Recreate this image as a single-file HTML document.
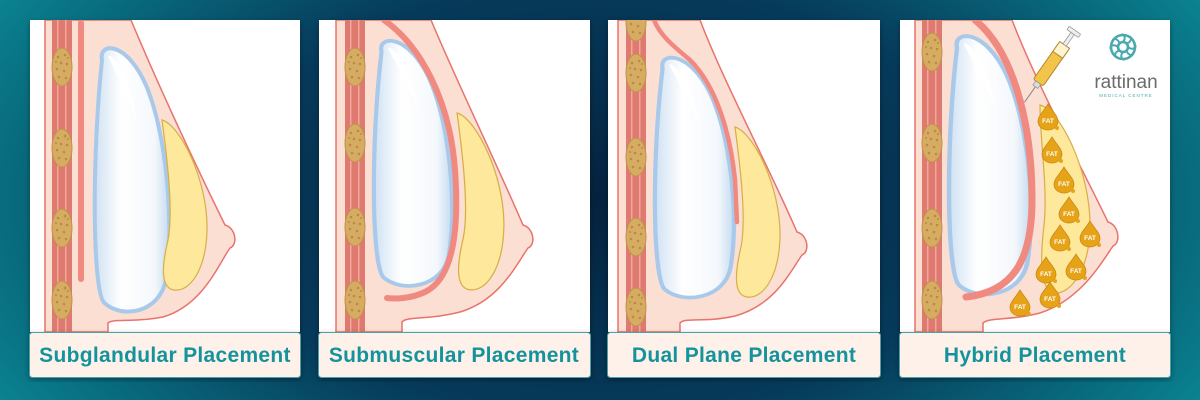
<!DOCTYPE html>
<html><head><meta charset="utf-8"><style>
html,body{margin:0;padding:0;width:1200px;height:400px;overflow:hidden}
body{background:radial-gradient(ellipse 70% 120% at 50% 50%,#04223f 0%,#063a5a 45%,#0a8793 85%,#0c9aa4 100%)}
svg{display:block}
.lbl{font-family:"Liberation Sans",sans-serif;font-weight:bold;font-size:21px;fill:#14939c;text-anchor:middle;letter-spacing:0.3px}
.fat{font-family:"Liberation Sans",sans-serif;font-size:6.5px;fill:#fff;text-anchor:middle;font-weight:bold}
</style></head><body>
<svg width="1200" height="400" viewBox="0 0 1200 400">
<defs>
<linearGradient id="imp" x1="0" x2="1" y1="0" y2="0">
<stop offset="0" stop-color="#cfe1f3"/><stop offset="0.35" stop-color="#fff"/><stop offset="0.8" stop-color="#f4f8fc"/><stop offset="1" stop-color="#c4dbf0"/></linearGradient>
<filter id="sh" x="-10%" y="-10%" width="120%" height="120%"><feDropShadow dx="0" dy="2" stdDeviation="3" flood-color="#000" flood-opacity="0.35"/></filter>
<clipPath id="c1"><rect x="30" y="20" width="270" height="312"/></clipPath>
<clipPath id="c2"><rect x="319" y="20" width="271" height="312"/></clipPath>
<clipPath id="c3"><rect x="608" y="20" width="272" height="312"/></clipPath>
<clipPath id="c4"><rect x="900" y="20" width="270" height="312"/></clipPath>
<g id="implant"><path d="M10,18 C6,0 35,-2 55,45 C75,95 82,180 74,235 C68,268 30,275 12,258 C0,245 0,110 10,18 Z" fill="url(#imp)" stroke="#a9c9ea" stroke-width="4"/><path d="M16,14 C22,10 40,40 45,80 C38,60 24,30 16,14Z" fill="#fff"/></g>
<g id="gland"><path d="M2,0 C20,5 48,60 47,110 C46,150 30,172 14,170 C0,168 2,145 8,120 C14,90 6,30 2,0 Z" fill="#fde89c" stroke="#d8ae45" stroke-width="1.2"/></g>
<g id="fatov"><ellipse cx="0" cy="0" rx="10" ry="19" fill="#d6ac62" stroke="#c0924a" stroke-width="1"/><g fill="#b98a48"><circle cx="-4" cy="-10" r="1.3"/><circle cx="3" cy="-12" r="1.3"/><circle cx="-1" cy="-4" r="1.3"/><circle cx="5" cy="-3" r="1.3"/><circle cx="-5" cy="2" r="1.3"/><circle cx="2" cy="4" r="1.3"/><circle cx="-3" cy="10" r="1.3"/><circle cx="4" cy="11" r="1.3"/><circle cx="6" cy="-9" r="1"/><circle cx="-6" cy="-5" r="1"/></g></g>
<g id="muscle"><rect x="-10" y="0" width="20" height="312" fill="#de7a70"/><rect x="-5" y="0" width="1.5" height="312" fill="#f3a79a"/><rect x="3" y="0" width="1.5" height="312" fill="#f3a79a"/></g>
<g id="drop"><path d="M0,-13 C4,-6 10,-1 10,4 C10,10 5,13 0,13 C-5,13 -10,10 -10,4 C-10,-1 -4,-6 0,-13Z" fill="#e7a318" stroke="#c98a10" stroke-width="0.8"/><circle cx="9" cy="11" r="2" fill="#e7a318"/><text class="fat" x="0" y="6">FAT</text></g>
</defs>

<g filter="url(#sh)"><rect x="30" y="20" width="270" height="312" fill="#fff"/></g>
<g clip-path="url(#c1)">
<path d="M45,20 H131 C156,80 193,160 225,225 C236,228 238,245 230,248 C218,265 203,305 163,317 C133,323 113,318 108,323 V332 H45 Z" fill="#fbdfd3" stroke="#e8736c" stroke-width="1.5"/>
<use href="#muscle" transform="translate(62,20)"/>
<use href="#fatov" transform="translate(62,67)"/><use href="#fatov" transform="translate(62,148)"/><use href="#fatov" transform="translate(62,228)"/><use href="#fatov" transform="translate(62,300)"/>
<rect x="78" y="20" width="6" height="262" rx="3" fill="#f08a80"/>
<use href="#implant" transform="translate(92,42) scale(1,1.01)"/>
<use href="#gland" transform="translate(160,120)"/>
</g>

<g filter="url(#sh)"><rect x="319" y="20" width="271" height="312" fill="#fff"/></g>
<g clip-path="url(#c2)">
<path d="M336,20 H431 C456,80 495,160 523,225 C534,228 536,245 528,248 C516,265 500,300 460,312 C430,320 407,316 402,322 V332 H336 Z" fill="#fbdfd3" stroke="#e8736c" stroke-width="1.5"/>
<use href="#muscle" transform="translate(355,20)"/>
<use href="#fatov" transform="translate(355,67)"/><use href="#fatov" transform="translate(355,143)"/><use href="#fatov" transform="translate(355,227)"/><use href="#fatov" transform="translate(355,300)"/>
<use href="#implant" transform="translate(371,35) scale(1.05,0.94)"/>
<path d="M384,20 C420,45 450,100 455,170 C460,240 450,280 425,292 C410,299 395,299 387,298" fill="none" stroke="#f08a80" stroke-width="6" stroke-linecap="round"/>
<use href="#gland" transform="translate(455,113) scale(1.04,1.04)"/>
</g>

<g filter="url(#sh)"><rect x="608" y="20" width="272" height="312" fill="#fff"/></g>
<g clip-path="url(#c3)">
<path d="M618,20 H700 C725,85 768,165 797,232 C808,235 810,252 802,255 C790,272 775,305 735,316 C705,323 685,317 680,323 V332 H618 Z" fill="#fbdfd3" stroke="#e8736c" stroke-width="1.5"/>
<use href="#muscle" transform="translate(636,20)"/>
<use href="#fatov" transform="translate(636,22)"/><use href="#fatov" transform="translate(636,73)"/><use href="#fatov" transform="translate(636,157)"/><use href="#fatov" transform="translate(636,237)"/><use href="#fatov" transform="translate(636,307)"/>
<use href="#implant" transform="translate(652,52) scale(1.06,0.92)"/>
<path d="M654,20 C660,35 672,45 690,60 C715,85 730,130 735,180 L737,222" fill="none" stroke="#f08a80" stroke-width="4.5" stroke-linecap="round"/>
<use href="#gland" transform="translate(733,127)"/>
</g>

<g filter="url(#sh)"><rect x="900" y="20" width="270" height="312" fill="#fff"/></g>
<g clip-path="url(#c4)">
<path d="M915,20 H1012 C1037,85 1078,160 1108,222 C1119,225 1121,243 1113,246 C1100,265 1080,300 1040,313 C1010,321 990,317 983,323 V332 H915 Z" fill="#fbdfd3" stroke="#e8736c" stroke-width="1.5"/>
<use href="#muscle" transform="translate(932,20)"/>
<use href="#fatov" transform="translate(932,52)"/><use href="#fatov" transform="translate(932,143)"/><use href="#fatov" transform="translate(932,228)"/><use href="#fatov" transform="translate(932,300)"/>
<use href="#implant" transform="translate(946,30) scale(1.1,0.99)"/>
<path d="M975,20 C1012,50 1032,120 1032,200 C1032,262 1012,292 966,297" fill="none" stroke="#f08a80" stroke-width="7" stroke-linecap="round"/>
<path d="M1040,105 C1060,110 1090,170 1090,225 C1090,270 1070,295 1054,293 C1040,290 1040,260 1044,225 C1048,190 1040,140 1040,105Z" fill="#fde89c" stroke="#d8ae45" stroke-width="1.2"/>
<use href="#drop" transform="translate(1048,117)"/><use href="#drop" transform="translate(1052,150)"/><use href="#drop" transform="translate(1064,180)"/><use href="#drop" transform="translate(1069,210)"/><use href="#drop" transform="translate(1060,238)"/><use href="#drop" transform="translate(1090,234)"/><use href="#drop" transform="translate(1046,270)"/><use href="#drop" transform="translate(1076,267)"/><use href="#drop" transform="translate(1050,295)"/><use href="#drop" transform="translate(1020,303)"/>
<g transform="translate(1052,63) rotate(35)">
<line x1="0" y1="28" x2="0" y2="48" stroke="#888" stroke-width="1"/>
<rect x="-6" y="-22" width="12" height="46" rx="2" fill="#f3c44a" stroke="#b48a30" stroke-width="1"/>
<rect x="-6" y="-22" width="12" height="12" fill="#fff3d0" stroke="#b48a30" stroke-width="1"/>
<rect x="-3" y="24" width="6" height="5" fill="#ddd" stroke="#999" stroke-width="0.8"/>
<rect x="-2" y="-36" width="4" height="14" fill="#eee" stroke="#999" stroke-width="0.8"/>
<rect x="-7" y="-40" width="14" height="4" rx="1" fill="#eee" stroke="#999" stroke-width="0.8"/>
</g>
</g>
<g transform="translate(1123,47)" fill="none" stroke="#4aa9b0" stroke-width="2.6">
<circle r="12"/><circle r="5"/>
<g stroke-width="2"><path d="M0,-5 C4,-10 0,-14 -2,-12"/><path d="M5,0 C10,4 14,0 12,-2"/><path d="M0,5 C-4,10 0,14 2,12"/><path d="M-5,0 C-10,-4 -14,0 -12,2"/><path d="M3.5,-3.5 C9,-5 9,-11 6,-10"/><path d="M3.5,3.5 C5,9 11,9 10,6"/><path d="M-3.5,3.5 C-9,5 -9,11 -6,10"/><path d="M-3.5,-3.5 C-5,-9 -11,-9 -10,-6"/></g>
</g>
<text x="1126" y="88" font-family="Liberation Sans,sans-serif" font-size="19" fill="#6b6b6b" text-anchor="middle">rattinan</text>
<text x="1126" y="97" font-family="Liberation Sans,sans-serif" font-size="4.5" fill="#4aa9b0" text-anchor="middle" letter-spacing="1">MEDICAL CENTRE</text>

<g filter="url(#sh)">
<rect x="29.5" y="332.5" width="271" height="45" rx="3" fill="#fdf1ea" stroke="#4aa0a6"/>
<rect x="318.5" y="332.5" width="272" height="45" rx="3" fill="#fdf1ea" stroke="#4aa0a6"/>
<rect x="607.5" y="332.5" width="273" height="45" rx="3" fill="#fdf1ea" stroke="#4aa0a6"/>
<rect x="899.5" y="332.5" width="271" height="45" rx="3" fill="#fdf1ea" stroke="#4aa0a6"/>
</g>
<text class="lbl" x="165" y="362">Subglandular Placement</text>
<text class="lbl" x="454" y="362">Submuscular Placement</text>
<text class="lbl" x="744" y="362">Dual Plane Placement</text>
<text class="lbl" x="1035" y="362">Hybrid Placement</text>
</svg>
</body></html>
